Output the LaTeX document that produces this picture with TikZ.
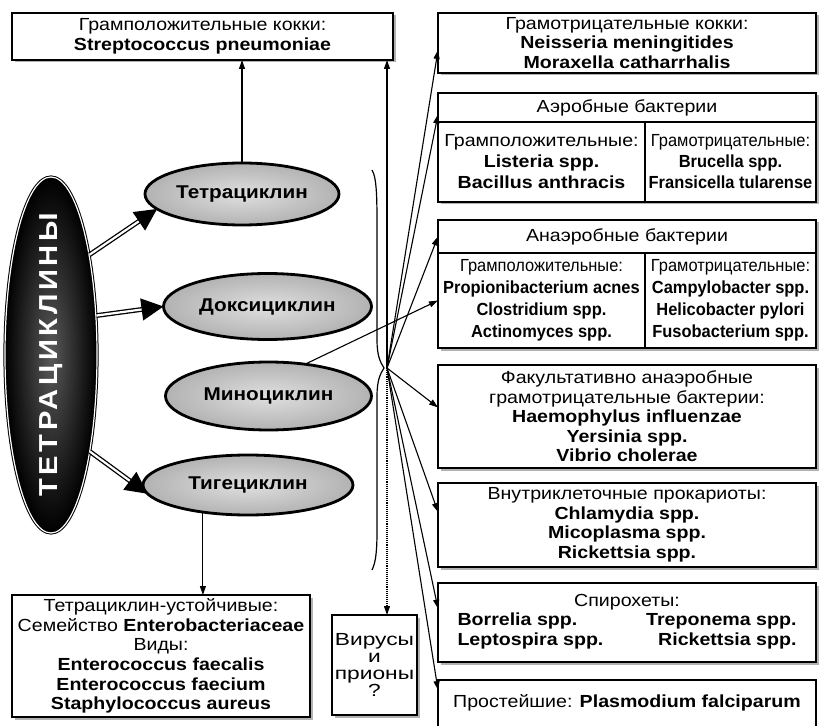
\documentclass[tikz,border=0pt]{standalone}
\usepackage{fontspec}
\setmainfont{Liberation Sans}[FakeStretch=1.12]
\newfontfamily\narrowfont{Liberation Sans}[FakeStretch=0.94]
\newfontfamily\widefont{Liberation Sans}[FakeStretch=1.3]
\usetikzlibrary{arrows.meta,shapes.geometric,shadows}

\begin{document}
\begin{tikzpicture}[x=1pt,y=-1pt,
  box/.style={draw, line width=1.2pt, fill=white, inner sep=0pt, outer sep=0pt, align=center,
    font=\fontsize{17.5}{19.5}\selectfont,
    drop shadow={shadow xshift=2.5pt, shadow yshift=-2.5pt, fill=gray!60, opacity=1}},
  narrowbox/.style={box, font=\narrowfont\fontsize{17.5}{22}\selectfont},
  drug/.style={ellipse, draw=black, line width=2.8pt, inner color=gray!25, outer color=gray!60,
    inner sep=0pt, outer sep=0pt, font=\fontsize{18.5}{20}\selectfont\bfseries},
  classnode/.style={ellipse, draw=black, line width=1pt, double=white, double distance=1.2pt,
    inner color=black!65, outer color=black, inner sep=0pt},
  link/.style={line width=1.1pt, -{Triangle[length=9pt,width=6pt]}},
  thick link/.style={line width=1.3pt, double=white, double distance=2.2pt,
    -{Triangle[length=22pt,width=22pt]}},
]
\useasboundingbox (0,0) rectangle (819,727);

% left column: boxes
\node[box, minimum width=381pt, minimum height=47pt] (str) at (202.5,36.5)
  {Грамположительные кокки:\\\textbf{Streptococcus pneumoniae}};
\node[box, minimum width=298pt, minimum height=122pt, font=\fontsize{17.5}{19.7}\selectfont] (res) at (161,656)
  {Тетрациклин-устойчивые:\\Семейство \textbf{Enterobacteriaceae}\\Виды:\\\textbf{Enterococcus faecalis}\\\textbf{Enterococcus faecium}\\\textbf{Staphylococcus aureus}};
\node[box, minimum width=85pt, minimum height=100pt, font=\widefont\fontsize{17.5}{17}\selectfont] (vir) at (374.5,665)
  {Вирусы\\и\\прионы\\?};

% the group and its four drugs
\node[classnode, minimum width=92pt, minimum height=356pt] (cls) at (51,355) {};
\node[rotate=90, text=white, font=\fontsize{26}{26}\selectfont\bfseries\addfontfeature{LetterSpace=14}] (clsname) at (cls) {ТЕТРАЦИКЛИНЫ};
\node[drug, minimum width=194pt, minimum height=62pt] (tet) at (242,194) {Тетрациклин};
\node[drug, minimum width=208pt, minimum height=66pt] (dox) at (267.5,306.5) {Доксициклин};
\node[drug, minimum width=206pt, minimum height=68pt] (min) at (268.5,396) {Миноциклин};
\node[drug, minimum width=210pt, minimum height=60pt] (tig) at (248,485) {Тигециклин};

% right column: sensitive organisms
\node[box, minimum width=378pt, minimum height=60pt] (gnk) at (627,43)
  {Грамотрицательные кокки:\\\textbf{Neisseria meningitides}\\\textbf{Moraxella catharrhalis}};
\node[box, minimum width=378pt, minimum height=29pt] (aer) at (627,107.5) {Аэробные бактерии};
\node[box, minimum width=207pt, minimum height=80pt, font=\fontsize{17.5}{21}\selectfont] (aerpos) at (541.5,162)
  {Грамположительные:\\\textbf{Listeria spp.}\\\textbf{Bacillus anthracis}};
\node[narrowbox, minimum width=171pt, minimum height=80pt, font=\narrowfont\fontsize{17.5}{21}\selectfont] (aerneg) at (730.5,162)
  {Грамотрицательные:\\\textbf{Brucella spp.}\\\textbf{Fransicella tularense}};
\node[box, minimum width=378pt, minimum height=33pt] (ana) at (627,236.5) {Анаэробные бактерии};
\node[narrowbox, minimum width=207pt, minimum height=95pt] (anapos) at (541.5,300.5)
  {Грамположительные:\\\textbf{Propionibacterium acnes}\\\textbf{Clostridium spp.}\\\textbf{Actinomyces spp.}};
\node[narrowbox, minimum width=171pt, minimum height=95pt] (ananeg) at (730.5,300.5)
  {Грамотрицательные:\\\textbf{Campylobacter spp.}\\\textbf{Helicobacter pylori}\\\textbf{Fusobacterium spp.}};
\node[box, minimum width=378pt, minimum height=103pt] (fak) at (627,416.5)
  {Факультативно анаэробные\\грамотрицательные бактерии:\\\textbf{Haemophylus influenzae}\\\textbf{Yersinia spp.}\\\textbf{Vibrio cholerae}};
\node[box, minimum width=378pt, minimum height=84pt] (vnu) at (627,525)
  {Внутриклеточные прокариоты:\\\textbf{Chlamydia spp.}\\\textbf{Micoplasma spp.}\\\textbf{Rickettsia spp.}};
\node[box, minimum width=378pt, minimum height=79pt] (spi) at (627,622.5)
  {Спирохеты:\\\begin{tabular*}{339pt}[t]{@{}l@{\extracolsep{\fill}}r@{}}\textbf{Borrelia spp.} & \textbf{Treponema spp.}\\\textbf{Leptospira spp.} & \textbf{Rickettsia spp.}\end{tabular*}};
\node[font=\fontsize{17.5}{20}\selectfont, minimum width=378pt, minimum height=46pt, inner sep=0pt, outer sep=0pt] (pro) at (627,703)
  {Простейшие: \textbf{Plasmodium falciparum}};
\draw[line width=1.2pt] (pro.south west) |- (pro.north east) -- (pro.south east);

% double arrows from the group to the drugs
\draw[thick link] (cls.69) -- (tet.190);
\draw[thick link] (cls.41) -- (dox.west);
\draw[thick link] (cls.-68) -- (tig.185);

% single arrows
\draw[link] (tet) -- (tet |- str.south);
\draw[link] (tig.-149) -- (tig.-149 |- res.north);
\draw[link] (min.41) -- (anapos.west);

% the bracket and its fan of arrows
\coordinate (hub) at (387,368);
\coordinate (bt) at (372,170);
\coordinate (bb) at (372,570);
\draw[line width=1.2pt] (bt) .. controls (377,178) and (377,200) .. (377,230) -- (377,340)
  .. controls (377,355) and (380,362) .. (384,368)
  .. controls (380,374) and (377,381) .. (377,396) -- (377,530)
  .. controls (377,550) and (376,562) .. (bb);
\draw[link] (hub) -- (hub |- str.south);
\draw[link, densely dotted] (hub) -- (hub |- vir.north);
\draw[link] (hub) -- ([yshift=-7pt]gnk.west);
\draw[link] (hub) -- ([yshift=-7pt]aer.west);
\draw[link] (hub) -- (ana.west);
\draw[link] (hub) -- ([yshift=9pt]fak.west);
\draw[link] (hub) -- ([yshift=13pt]vnu.west);
\draw[link] (hub) -- ([yshift=14pt]spi.west);
\draw[link] (hub) -- ([yshift=13pt]pro.west);
\end{tikzpicture}
\end{document}
